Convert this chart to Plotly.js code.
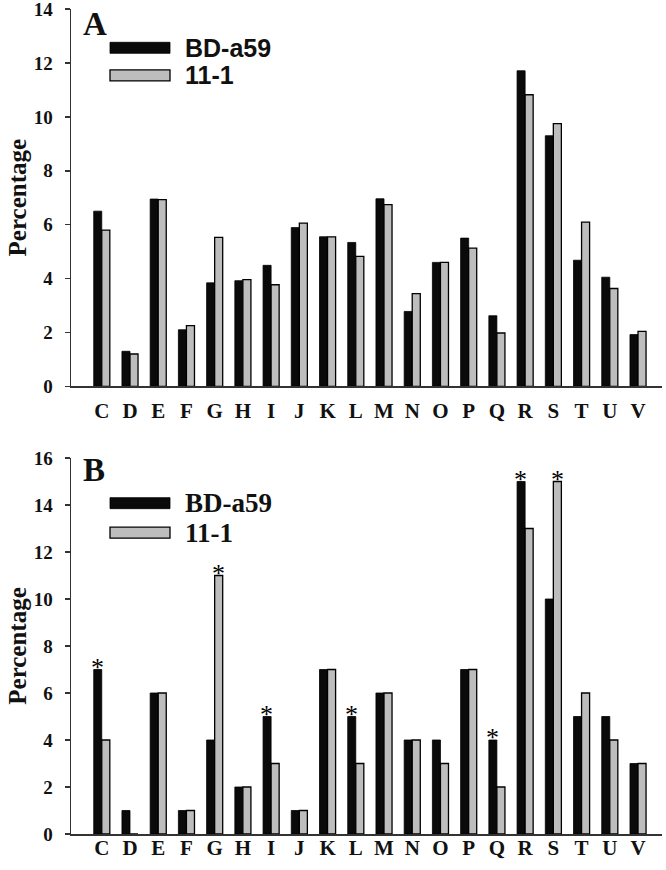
<!DOCTYPE html>
<html>
<head>
<meta charset="utf-8">
<script src="https://cdn.plot.ly/plotly-3.0.1.min.js"></script>
<style>
html,body{margin:0;padding:0;background:#fff;}
#chart{width:666px;height:870px;}
</style>
</head>
<body>
<div id="chart"></div>
<script>
const categories = ['C','D','E','F','G','H','I','J','K','L','M','N','O','P','Q','R','S','T','U','V'];
const seriesNames = ['BD-a59', '11-1'];
// Panel A values
const aBD  = [6.5, 1.3, 6.95, 2.1, 3.84, 3.92, 4.49, 5.89, 5.55, 5.34, 6.96, 2.78, 4.6, 5.5, 2.62, 11.71, 9.3, 4.68, 4.05, 1.92];
const a111 = [5.8, 1.2, 6.93, 2.25, 5.53, 3.96, 3.77, 6.06, 5.55, 4.82, 6.74, 3.44, 4.6, 5.13, 1.98, 10.82, 9.75, 6.09, 3.63, 2.04];
// Panel B values
const bBD  = [7, 1, 6, 1, 4, 2, 5, 1, 7, 5, 6, 4, 4, 7, 4, 15, 10, 5, 5, 3];
const b111 = [4, 0, 6, 1, 11, 2, 3, 1, 7, 3, 6, 4, 3, 7, 2, 13, 15, 6, 4, 3];
// Significance marks in panel B: [category, series index]
const starsB = [['C',0],['G',1],['I',0],['L',0],['Q',0],['R',0],['S',1]];
const yTicksA = [0, 2, 4, 6, 8, 10, 12, 14];
const yTicksB = [0, 2, 4, 6, 8, 10, 12, 14, 16];

const W = 666, H = 870;
const mL = 71, mR = 4, mT = 9.4, mB = 35.7;
const pw = W - mL - mR, ph = H - mT - mB;
const px = x => (x - mL) / pw;
const py = y => (H - mB - y) / ph;

const serif = 'Liberation Serif, Times New Roman, serif';
const sans = 'Liberation Sans, Arial, sans-serif';
const blackC = '#0a0a0a', grayC = '#bdbdbd';

function bar(name, y, xa, ya, color, lw) {
  return {type:'bar', name:name, x:categories, y:y, xaxis:xa, yaxis:ya,
    marker:{color:color, line:{color:'#000', width:lw}}, showlegend:false, hoverinfo:'skip'};
}
const data = [
  bar(seriesNames[0], aBD, 'x', 'y', blackC, 0.8),
  bar(seriesNames[1], a111, 'x', 'y', grayC, 1.3),
  bar(seriesNames[0], bBD, 'x2', 'y2', blackC, 0.8),
  bar(seriesNames[1], b111, 'x2', 'y2', grayC, 1.3)
];

const xRange = [-1.09, 19.85];
const axisLine = {showline:true, linecolor:'#333', linewidth:1.5};
function xax(anchor, standoff) {
  return Object.assign({type:'category', range:xRange, anchor:anchor, ticks:'', showgrid:false, zeroline:false,
    tickfont:{family:serif, size:21, weight:'bold', color:'#111'}, ticklabelstandoff:standoff, fixedrange:true}, axisLine);
}
function yax(anchor, domain, range, ticks) {
  return Object.assign({domain:domain, range:range, anchor:anchor, tickvals:ticks, ticktext:ticks.map(String),
    ticks:'outside', ticklen:5, tickwidth:1.5, tickcolor:'#333', showgrid:false, zeroline:false,
    tickfont:{family:serif, size:19, weight:'bold', color:'#111'}, ticklabelstandoff:8, ticklabeloverflow:'allow',
    title:{text:'Percentage', font:{family:serif, size:25, weight:'bold', color:'#111'}, standoff:0}}, axisLine);
}

const annotations = [];
const shapes = [];
function panelLegend(label, labelY, rectTops, textFont, textSize) {
  annotations.push({xref:'paper', yref:'paper', x:px(81), y:py(labelY), xanchor:'left', yanchor:'middle',
    text:'<b>'+label+'</b>', showarrow:false, font:{family:serif, size:33, color:'#111'}});
  const colors = [blackC, grayC];
  rectTops.forEach((t, i) => {
    shapes.push({type:'rect', xref:'paper', yref:'paper', x0:px(110), x1:px(170), y0:py(t), y1:py(t+11),
      fillcolor:colors[i], line:{color:'#000', width:i ? 1.3 : 0.8}});
    annotations.push({xref:'paper', yref:'paper', x:px(183), y:py(t+5.5), xanchor:'left', yanchor:'middle',
      text:'<b>'+seriesNames[i]+'</b>', showarrow:false, font:{family:textFont, size:textSize, color:'#111'}});
  });
}
panelLegend('A', 24, [42.7, 70.3], sans, 25);
panelLegend('B', 470, [498, 527.5], serif, 27);

starsB.forEach(([cat, s]) => {
  const idx = categories.indexOf(cat);
  const v = s ? b111[idx] : bBD[idx];
  annotations.push({xref:'x2', yref:'y2', x:cat, y:v, xshift: s ? 4.2 : -4.2, yshift:-14, yanchor:'bottom',
    text:'*', showarrow:false, font:{family:serif, size:26, color:'#000'}});
});

const layout = {
  width:W, height:H, margin:{l:mL, r:mR, t:mT, b:mB, pad:0},
  paper_bgcolor:'#fff', plot_bgcolor:'#fff',
  barmode:'group', bargap:0.43, bargroupgap:0,
  xaxis: xax('y', 5),
  yaxis: yax('x', [py(386.7), 1], [0, 14.002], yTicksA),
  xaxis2: xax('y2', -6),
  yaxis2: yax('x2', [0, py(458.3)], [0, 16.002], yTicksB),
  annotations: annotations, shapes: shapes, showlegend:false
};
Plotly.newPlot('chart', data, layout, {displayModeBar:false, staticPlot:true});
</script>
</body>
</html>
